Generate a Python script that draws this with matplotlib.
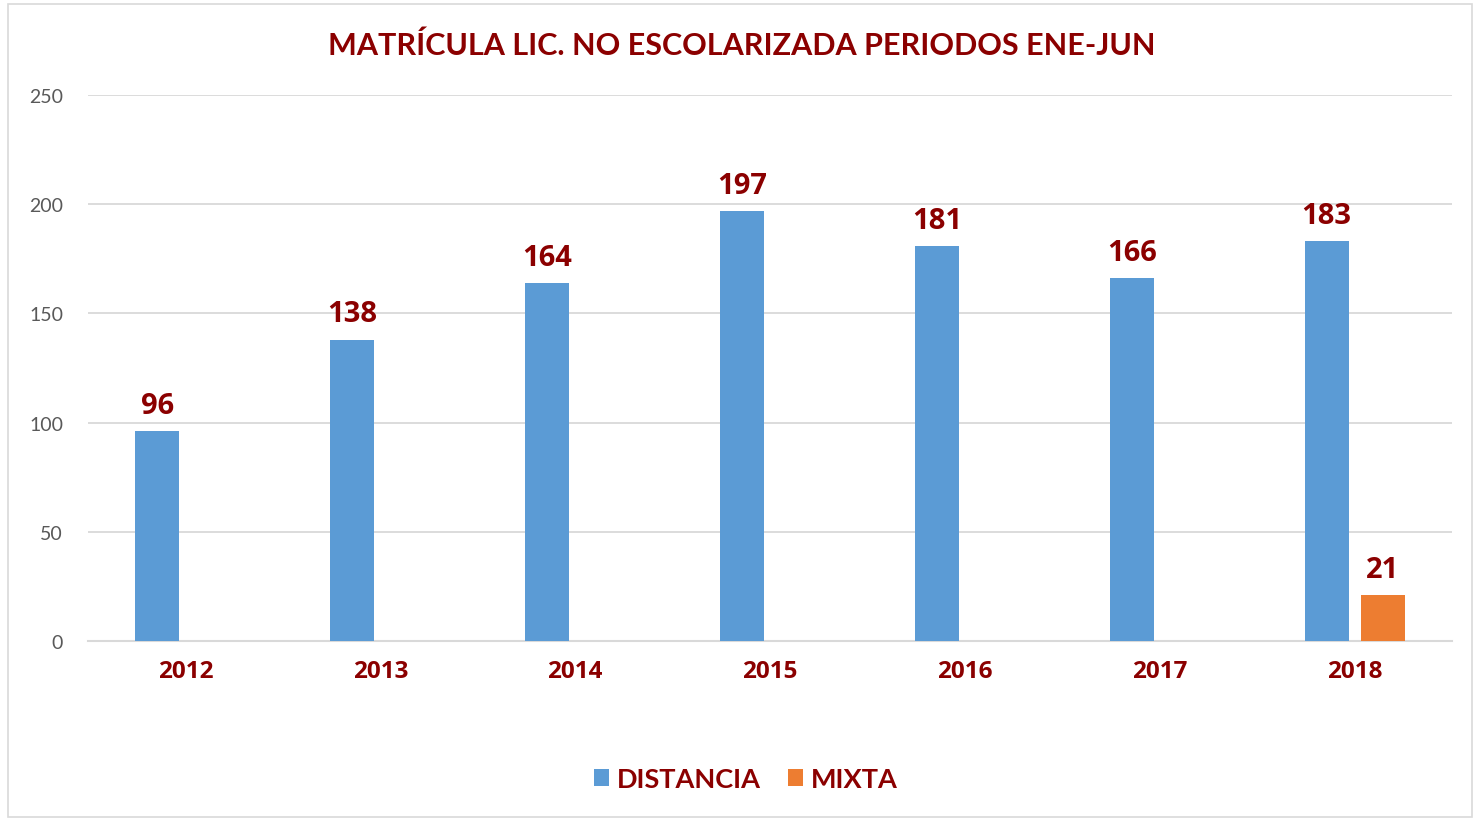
import matplotlib
matplotlib.use("Agg")
import matplotlib.pyplot as plt
import numpy as np
from matplotlib.patches import Rectangle

years = ["2012", "2013", "2014", "2015", "2016", "2017", "2018"]
distancia = [96, 138, 164, 197, 181, 166, 183]
mixta = [0, 0, 0, 0, 0, 0, 21]
series_names = ["DISTANCIA", "MIXTA"]
title = "MATRÍCULA LIC. NO ESCOLARIZADA PERIODOS ENE-JUN"

BLUE = "#5B9BD5"
ORANGE = "#ED7D31"
RED = "#8B0000"
FONT = ["Lato", "DejaVu Sans"]
NFONT = ["Open Sans", "DejaVu Sans"]

fig = plt.figure(figsize=(14.82, 8.2), dpi=100)
ax = fig.add_axes([88/1482, 1-642/820, (1452-88)/1482, (642-96)/820])

x = np.arange(len(years))
w = 0.226
off = 0.1437
b1 = ax.bar(x - off, distancia, w, color=BLUE, label=series_names[0], zorder=3)
b2 = ax.bar(x + off, mixta, w, color=ORANGE, label=series_names[1], zorder=3)

for bars, vals in ((b1, distancia), (b2, mixta)):
    for r, v in zip(bars, vals):
        if v:
            ax.annotate(str(v), (r.get_x() + r.get_width()/2, v), xytext=(0, 8),
                        textcoords="offset points", ha="center", va="bottom",
                        fontsize=21, fontweight="bold", color=RED, family=NFONT)

ax.set_xlim(-0.5, len(years) - 0.5)
ax.set_ylim(0, 250)
ax.set_yticks(range(0, 251, 50))
ax.yaxis.grid(True, color="#D9D9D9", linewidth=1.3, zorder=0)
ax.set_axisbelow(True)
for s in ("left", "right", "top"):
    ax.spines[s].set_visible(False)
ax.spines["bottom"].set_color("#D9D9D9")
ax.spines["bottom"].set_linewidth(1.5)
ax.tick_params(axis="both", length=0)
ax.tick_params(axis="y", pad=18, labelsize=14, labelcolor="#595959")
ax.set_xticks(x)
ax.set_xticklabels(years, fontsize=17.5, fontweight="bold", color=RED, family=NFONT)
ax.tick_params(axis="x", pad=13)
for t in ax.get_yticklabels():
    t.set_family(FONT)

fig.text(742/1482, 1-46/820, title, ha="center", va="center", fontsize=22,
         fontweight="bold", color=RED, family=FONT)

leg = fig.legend(handles=[b1, b2], labels=series_names, loc="center",
                 bbox_to_anchor=(746/1482, 1-780/820), ncol=2, frameon=False,
                 prop={"family": FONT, "size": 19.5, "weight": "bold"},
                 handlelength=0.55, handleheight=0.55, handletextpad=0.3,
                 columnspacing=1.0)
for t in leg.get_texts():
    t.set_color(RED)

fig.patches.append(Rectangle((8/1482, 2/820), (1472-8)/1482, (815-2)/820,
                             transform=fig.transFigure, fill=False,
                             edgecolor="#D9D9D9", linewidth=1.2))

fig.savefig("out.png", dpi=100)
